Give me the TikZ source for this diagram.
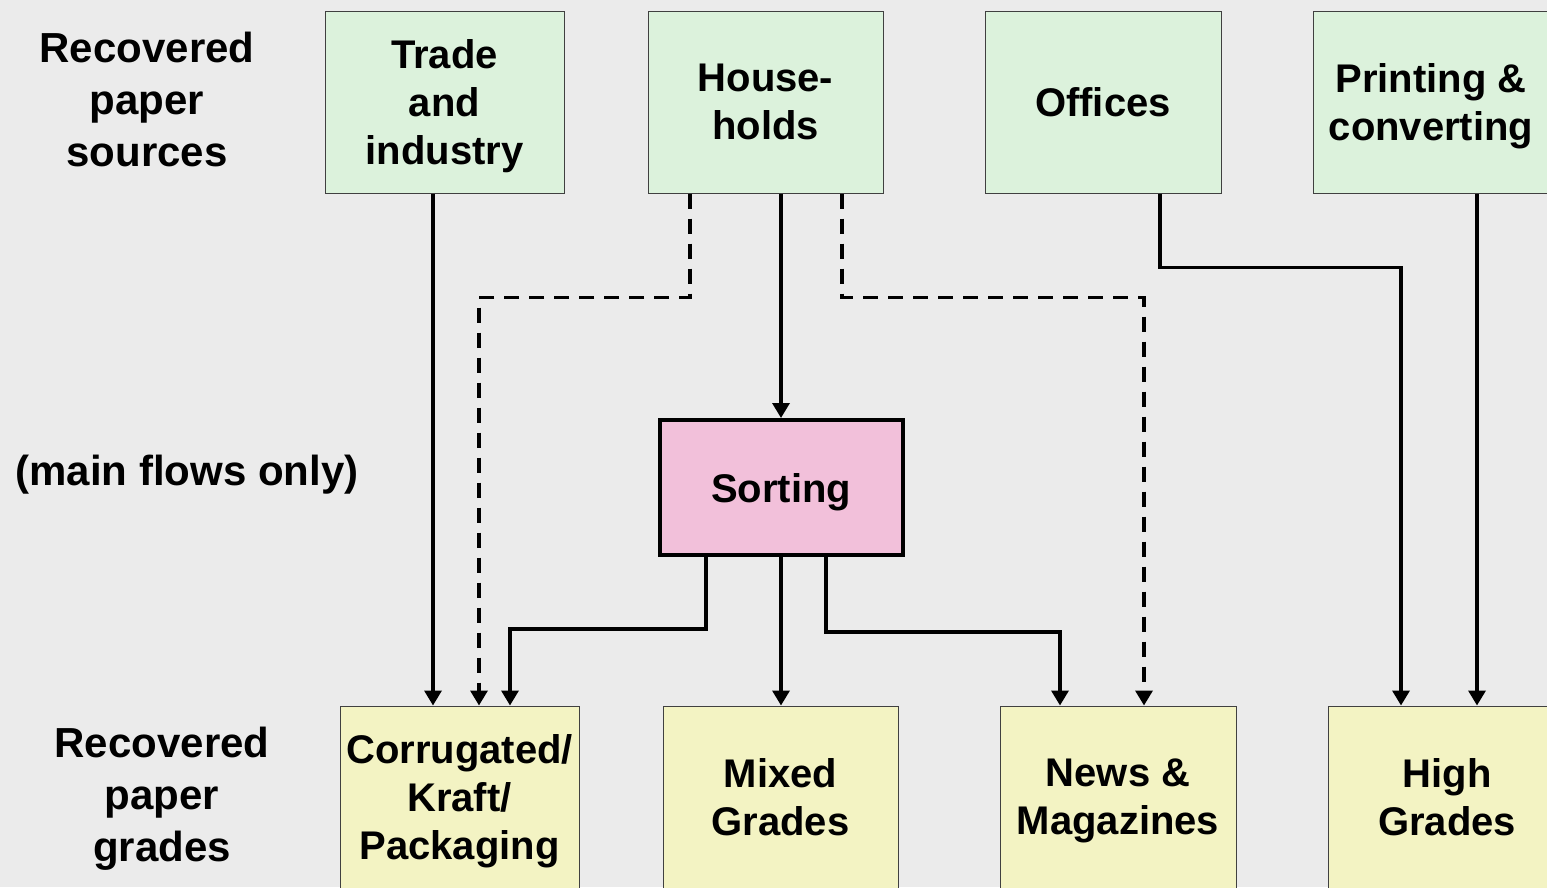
\documentclass[tikz,border=0pt]{standalone}
\usepackage{fontspec}
\setmainfont{Liberation Sans}
\usetikzlibrary{arrows.meta,calc}
\definecolor{bg}{HTML}{EBEBEB}
\definecolor{srcfill}{HTML}{DCF2DC}
\definecolor{gradefill}{HTML}{F3F3C3}
\definecolor{sortfill}{HTML}{F2C0DA}
\definecolor{edge}{HTML}{404040}
\begin{document}
\begin{tikzpicture}[x=1pt,y=-1pt,
  box/.style={draw=edge,line width=1pt,minimum width=236pt,minimum height=182pt,
    inner sep=0pt,align=center,text depth=0pt,font=\fontsize{40}{48}\selectfont\bfseries},
  srcbox/.style={box,fill=srcfill},
  gradebox/.style={box,fill=gradefill},
  sortbox/.style={draw=black,line width=4pt,fill=sortfill,minimum width=243pt,
    minimum height=135pt,inner sep=0pt,text depth=0pt,font=\fontsize{40}{48}\selectfont\bfseries},
  sidelabel/.style={align=center,inner sep=0pt,font=\fontsize{42}{52}\selectfont\bfseries},
  flow/.style={line width=3.4pt,-{Triangle[length=15pt,width=17pt]}},
  flowd/.style={flow,dash pattern=on 15pt off 10pt},
]
\useasboundingbox (0,0) rectangle (1547,887);
\fill[bg] (0,0) rectangle (1547,887);
\clip (0,0) rectangle (1547,887);

% side labels
\node[sidelabel] (lsrc) at (147,99) {Recovered\\paper\\sources};
\node[sidelabel] (lmain) at (187,475) {(main flows only)};
\node[sidelabel] (lgrd) at (162,799) {Recovered\\paper\\grades};

% sources
\node[srcbox,minimum width=239pt] (trade) at (444.5,102) {Trade\\and\\industry};
\node[srcbox,minimum width=235pt] (hh) at (765.5,102) {House-\\holds};
\node[srcbox] (off) at (1103,102) {Offices};
\node[srcbox] (print) at (1431,102) {Printing \&\\converting};

% sorting
\node[sortbox] (sort) at (781,487.5) {Sorting};

% grades
\node[gradebox,minimum width=239pt] (corr) at (459.5,797) {Corrugated/\\Kraft/\\Packaging};
\node[gradebox,minimum width=235pt] (mixed) at (780.5,797) {Mixed\\Grades};
\node[gradebox] (news) at (1118,797) {News \&\\Magazines};
\node[gradebox,minimum width=238pt] (high) at (1447,797) {High\\Grades};

% direct flows
\draw[flow] ([xshift=-11.5pt]trade.south) -- ([xshift=-26.5pt]corr.north);
\draw[flow] ([xshift=15.5pt]hh.south) -- (sort.north);
\draw[flow] ([xshift=46pt]print.south) -- ([xshift=30pt]high.north);
\draw[flow] (sort.south) -- ([xshift=0.5pt]mixed.north);

% flows bypassing sorting
\draw[flowd] ([xshift=-75.5pt]hh.south) -- ++(0,104) -| ([xshift=19.5pt]corr.north);
\draw[flowd] ([xshift=76.5pt]hh.south) -- ++(0,104) -| ([xshift=26pt]news.north);
\draw[flow] ([xshift=57pt]off.south) -- ++(0,74) -| ([xshift=-46pt]high.north);

% flows out of sorting
\draw[flow] ([xshift=-75pt]sort.south) -- ++(0,72) -| ([xshift=50.5pt]corr.north);
\draw[flow] ([xshift=45pt]sort.south) -- ++(0,75) -| ([xshift=-58pt]news.north);
\end{tikzpicture}
\end{document}
